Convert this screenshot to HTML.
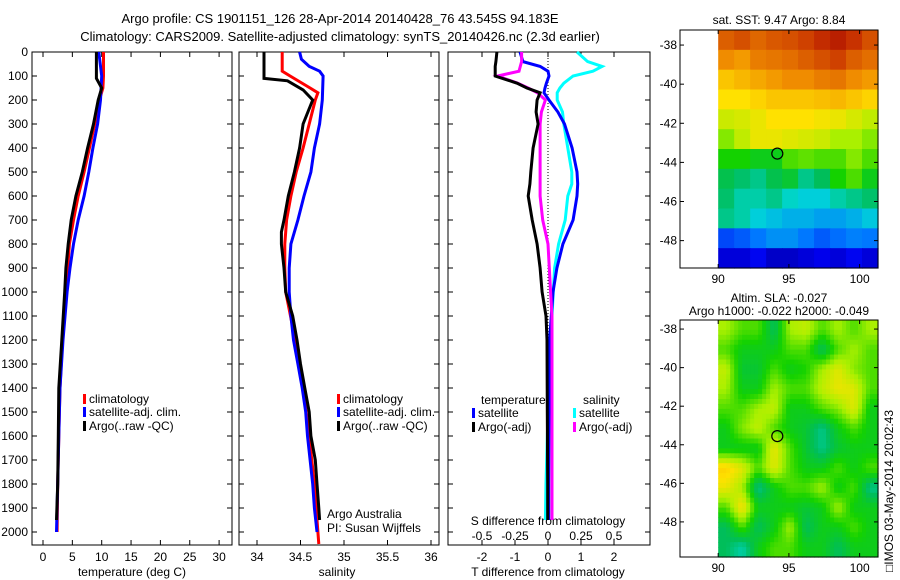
<!DOCTYPE html>
<html><head><meta charset="utf-8"><style>
body{margin:0;background:#fff;}
svg{display:block;font-family:"Liberation Sans",sans-serif;}
text{font-size:12px;fill:#000;}
</style></head><body>
<svg id="s" width="900" height="580" viewBox="0 0 900 580">
<text x="340" y="23" text-anchor="middle" style="font-size:13px">Argo profile: CS 1901151_126 28-Apr-2014 20140428_76 43.545S 94.183E</text>
<text x="340" y="41" text-anchor="middle" style="font-size:13px">Climatology: CARS2009. Satellite-adjusted climatology: synTS_20140426.nc (2.3d earlier)</text>
<text x="132" y="576" text-anchor="middle">temperature (deg C)</text>
<text x="337" y="576" text-anchor="middle">salinity</text>
<text x="548" y="576" text-anchor="middle">T difference from climatology</text>
<text x="548" y="525" text-anchor="middle">S difference from climatology</text>
<text x="779" y="24" text-anchor="middle">sat. SST: 9.47 Argo: 8.84</text>
<text x="779" y="302" text-anchor="middle">Altim. SLA: -0.027</text>
<text x="779" y="315" text-anchor="middle">Argo h1000: -0.022 h2000: -0.049</text>
<text x="327" y="518">Argo Australia</text>
<text x="327" y="532">PI: Susan Wijffels</text>
<text transform="translate(893,572) rotate(-90)">□IMOS 03-May-2014 20:02:43</text>
</svg>
<script>
const S=document.getElementById('s');const NS='http://www.w3.org/2000/svg';
function mk(tag,at,parent){const e=document.createElementNS(NS,tag);for(const k in at)e.setAttribute(k,at[k]);(parent||S).appendChild(e);return e;}
// ---- data ----
const depthT=[0,100,150,200,300,400,500,600,700,800,900,1000,1200,1400,1600,1800,2000];
const tempClim=[10.3,10.3,10.2,9.6,8.8,7.9,7.0,6.0,5.2,4.5,4.2,3.9,3.3,2.9,2.7,2.5,2.4];
const tempSat=[9.5,10.0,9.9,9.8,9.3,8.5,7.8,7.0,6.0,5.2,4.6,4.1,3.4,2.9,2.7,2.5,2.3];
const depthTA=[0,110,150,200,300,400,500,600,700,800,900,1000,1200,1400,1600,1800,1950];
const tempArgo=[9.1,9.1,10.0,9.4,8.6,7.6,6.7,5.6,4.8,4.3,3.9,3.7,3.2,2.7,2.6,2.5,2.3];
const depthSC=[0,80,100,150,170,200,300,400,500,600,700,800,900,1000,1200,1400,1600,1800,2000,2050];
const salClim=[34.29,34.29,34.38,34.61,34.70,34.67,34.60,34.53,34.45,34.39,34.34,34.32,34.32,34.33,34.44,34.53,34.6,34.66,34.70,34.71];
const depthSS=[0,30,60,80,100,200,300,400,500,600,700,800,900,1000,1100,1200,1300,1400,1500,1600,1700,1800,1900,2000];
const salSat=[34.49,34.51,34.6,34.72,34.76,34.75,34.72,34.66,34.62,34.54,34.47,34.39,34.37,34.37,34.39,34.42,34.47,34.52,34.56,34.58,34.61,34.64,34.66,34.69];
const depthSA=[0,110,120,158,200,300,400,500,600,700,750,800,900,1000,1100,1200,1300,1400,1500,1600,1700,1800,1900,1950];
const salArgo=[34.08,34.08,34.35,34.53,34.64,34.53,34.49,34.43,34.36,34.31,34.28,34.28,34.31,34.33,34.41,34.46,34.5,34.55,34.6,34.62,34.67,34.69,34.71,34.72];
const depthD=[0,40,60,80,100,130,150,170,200,250,300,400,500,550,600,700,800,900,1000,1100,1200,1500,1800,1950];
const dTsat=[-0.85,-0.76,-0.24,0,0.03,-0.05,-0.09,-0.12,0.03,0.3,0.5,0.73,0.88,0.9,0.88,0.76,0.45,0.27,0.15,0.1,0.05,0.03,0.02,0.02];
const dTargo=[-1.55,-1.58,-1.6,-1.6,-1.6,-0.94,-0.64,-0.24,-0.33,-0.36,-0.3,-0.45,-0.52,-0.55,-0.6,-0.48,-0.33,-0.24,-0.18,-0.06,-0.03,-0.02,-0.01,-0.01];
const dSsat=[0.22,0.3,0.41,0.34,0.19,0.12,0.09,0.07,0.07,0.11,0.12,0.15,0.18,0.18,0.15,0.13,0.08,0.05,0.04,0.03,0.02,0.0,-0.015,-0.02];
const dSargo=[-0.2,-0.2,-0.21,-0.22,-0.38,-0.23,-0.15,-0.08,-0.02,-0.05,-0.06,-0.06,-0.06,-0.06,-0.06,-0.04,0,0.01,0.02,0.03,0.03,0.03,0.03,0.03];
const depthTicks=[0,100,200,300,400,500,600,700,800,900,1000,1100,1200,1300,1400,1500,1600,1700,1800,1900,2000];
const tempTicks=[0,5,10,15,20,25,30];
const salTicks=['34','34.5','35','35.5','36'];
const dTTicks=[-2,-1,0,1,2];
const dSTicks=['-0.5','-0.25','0','0.25','0.5'];
const latTicks=[-38,-40,-42,-44,-46,-48];
const lonTicks=[90,95,100];
const sstGrid=[
[.86,.88,.85,.87,.88,.9,.93,.95,.92,.88],
[.8,.78,.82,.83,.84,.86,.88,.9,.86,.84],
[.72,.74,.76,.78,.8,.8,.82,.83,.8,.78],
[.68,.68,.7,.72,.72,.72,.73,.74,.72,.7],
[.63,.64,.66,.68,.68,.68,.67,.66,.64,.62],
[.58,.62,.66,.66,.65,.64,.63,.6,.6,.58],
[.52,.52,.5,.5,.55,.56,.55,.55,.58,.55],
[.46,.44,.42,.46,.48,.42,.45,.52,.55,.5],
[.44,.4,.4,.42,.38,.36,.36,.4,.42,.44],
[.42,.4,.36,.34,.32,.32,.3,.3,.32,.35],
[.2,.22,.25,.28,.28,.25,.22,.24,.26,.25],
[.1,.1,.13,.08,.08,.1,.12,.1,.13,.1]];
const slaGrid=[
[.6,.55,.55,.45,.6,.62,.55,.6,.55,.6],
[.55,.5,.5,.5,.55,.55,.45,.55,.6,.55],
[.62,.48,.48,.55,.5,.52,.6,.65,.58,.55],
[.6,.5,.5,.6,.55,.55,.62,.66,.65,.55],
[.55,.55,.6,.62,.5,.5,.55,.58,.65,.5],
[.5,.58,.62,.55,.5,.48,.42,.5,.55,.5],
[.5,.5,.5,.66,.55,.48,.42,.48,.5,.5],
[.7,.65,.55,.65,.55,.5,.5,.55,.5,.55],
[.66,.6,.42,.5,.55,.55,.6,.5,.55,.42],
[.55,.68,.5,.5,.5,.48,.5,.6,.5,.5],
[.45,.55,.45,.5,.6,.45,.5,.5,.55,.5],
[.45,.4,.5,.55,.55,.5,.5,.45,.5,.5]];
const argoLon=[94.18];const argoLat=[-43.55];
// ---- scales ----
const yD=d=>52+d*0.24;
const xT=t=>43+t*5.87;
const xS=s=>257+(s-34)*87;
const xDT=t=>548+t*33;
const xDS=s=>548+s*132;
function line(xs,ys,xf,yf,col,name){const p=xs.map((v,i)=>xf(v).toFixed(1)+','+yf(ys[i]).toFixed(1)).join(' ');
 const e=mk('polyline',{points:p,fill:'none',stroke:col,'stroke-width':3,'stroke-linejoin':'miter'});
 
 }
function panel(x0,x1,name){const r=mk('rect',{x:x0,y:52,width:x1-x0,height:493,fill:'none',stroke:'#000','stroke-width':1});
 
 
 depthTicks.forEach(d=>{mk('line',{x1:x0,x2:x0+5,y1:yD(d),y2:yD(d),stroke:'#000'});mk('line',{x1:x1-5,x2:x1,y1:yD(d),y2:yD(d),stroke:'#000'});});}
function xticks(vals,xf,x0,name){vals.forEach(v=>{const x=xf(+v);mk('line',{x1:x,x2:x,y1:545,y2:540,stroke:'#000'});mk('line',{x1:x,x2:x,y1:52,y2:57,stroke:'#000'});
 const t=mk('text',{x:x,y:561,'text-anchor':'middle'});t.textContent=v;
 
 });}
panel(32,232,'temperature-panel');panel(239,439,'salinity-panel');panel(448,650,'difference-panel');
depthTicks.forEach(d=>{const t=mk('text',{x:28,y:yD(d)+4,'text-anchor':'end'});t.textContent=d;
 
 });
xticks(tempTicks,xT,32,'temperature-tick-label');
xticks(salTicks,xS,239,'salinity-tick-label');
xticks(dTTicks,xDT,448,'t-diff-tick-label');
dSTicks.forEach(v=>{const t=mk('text',{x:xDS(+v),y:540,'text-anchor':'middle'});t.textContent=v;
 
 });
const z=mk('line',{x1:548,x2:548,y1:52,y2:400,stroke:'#000','stroke-dasharray':'1,2'});


line(tempClim,depthT,xT,yD,'#f00','temp-climatology-line');
line(tempSat,depthT,xT,yD,'#00f','temp-satellite-line');
line(tempArgo,depthTA,xT,yD,'#000','temp-argo-line');
line(salClim,depthSC,xS,yD,'#f00','sal-climatology-line');
line(salSat,depthSS,xS,yD,'#00f','sal-satellite-line');
line(salArgo,depthSA,xS,yD,'#000','sal-argo-line');
line(dSsat,depthD,xDS,yD,'#0ff','s-diff-satellite-line');
line(dTsat,depthD,xDT,yD,'#00f','t-diff-satellite-line');
line(dSargo,depthD,xDS,yD,'#f0f','s-diff-argo-line');
line(dTargo,depthD,xDT,yD,'#000','t-diff-argo-line');
function leg(x,y,col,label,name){mk('rect',{x:x,y:y-9,width:3,height:10,fill:col});
 const t=mk('text',{x:x+6,y:y});t.textContent=label;
 
 }
leg(83,403,'#f00','climatology','legend-climatology');leg(83,416,'#00f','satellite-adj. clim.','legend-satellite-adj');leg(83,430,'#000','Argo(..raw -QC)','legend-argo');
leg(337,403,'#f00','climatology','legend-climatology');leg(337,416,'#00f','satellite-adj. clim.','legend-satellite-adj');leg(337,430,'#000','Argo(..raw -QC)','legend-argo');
let tt=mk('text',{x:481,y:404});tt.textContent='temperature';


tt=mk('text',{x:583,y:404});tt.textContent='salinity';


leg(472,417,'#00f','satellite','legend-t-satellite');leg(472,431,'#000','Argo(-adj)','legend-t-argo');
leg(573,417,'#0ff','satellite','legend-s-satellite');leg(573,431,'#f0f','Argo(-adj)','legend-s-argo');
// colormap
const stops=[[0,[0,0,130]],[.125,[0,0,240]],[.25,[0,120,255]],[.37,[0,215,215]],[.45,[0,190,90]],[.52,[20,210,0]],[.6,[170,240,0]],[.68,[255,225,0]],[.8,[240,140,0]],[.92,[200,50,0]],[1,[160,0,0]]];
function cmap(v){for(let i=1;i<stops.length;i++){if(v<=stops[i][0]){const a=stops[i-1],b=stops[i],f=(v-a[0])/(b[0]-a[0]);return 'rgb('+a[1].map((c,k)=>Math.round(c+(b[1][k]-c)*f)).join(',')+')';}}return 'rgb(160,0,0)';}
function sample(grid,r,c){const R=grid.length,C=grid[0].length;r=Math.max(0,Math.min(R-1,r));c=Math.max(0,Math.min(C-1,c));
 const r0=Math.floor(r),c0=Math.floor(c),r1=Math.min(R-1,r0+1),c1=Math.min(C-1,c0+1),fr=r-r0,fc=c-c0;
 return grid[r0][c0]*(1-fr)*(1-fc)+grid[r0][c1]*(1-fr)*fc+grid[r1][c0]*fr*(1-fc)+grid[r1][c1]*fr*fc;}
function map(y0,y1,latTop,latBot,grid,name,sub){
 const x0=680,x1=878,lon0=87.3,lon1=101.3;
 const xL=l=>x0+(l-lon0)/(lon1-lon0)*(x1-x0);
 const yL=l=>y0+(latTop-l)/(latTop-latBot)*(y1-y0);
 const rows=grid.length*sub,cols=grid[0].length*sub,lonA=90,cw=(x1-xL(lonA))/cols,ch=(y1-y0)/rows;
 for(let r=0;r<rows;r++)for(let c=0;c<cols;c++){
  const v=sub===1?grid[r][c]:sample(grid,(r+0.5)/sub-0.5,(c+0.5)/sub-0.5);
  const e=mk('rect',{x:(xL(lonA)+c*cw).toFixed(2),y:(y0+r*ch).toFixed(2),width:(cw+0.6).toFixed(2),height:(ch+0.6).toFixed(2),fill:cmap(v)});
  
  }
 const b=mk('rect',{x:x0,y:y0,width:x1-x0,height:y1-y0,fill:'none',stroke:'#000'});
 
 
 latTicks.forEach(l=>{const y=yL(l);mk('line',{x1:x0,x2:x0+4,y1:y,y2:y,stroke:'#000'});mk('line',{x1:x1-4,x2:x1,y1:y,y2:y,stroke:'#000'});
  const t=mk('text',{x:x0-3,y:y+4,'text-anchor':'end'});t.textContent=l;
  
  });
 lonTicks.forEach(l=>{const x=xL(l);mk('line',{x1:x,x2:x,y1:y1,y2:y1-4,stroke:'#000'});mk('line',{x1:x,x2:x,y1:y0,y2:y0+4,stroke:'#000'});
  const t=mk('text',{x:x,y:y1+15,'text-anchor':'middle'});t.textContent=l;
  
  });
 argoLon.forEach((l,i)=>{const c=mk('circle',{cx:xL(l),cy:yL(argoLat[i]),r:5.5,fill:'none',stroke:'#000','stroke-width':1.2});
  
  });
}
map(30,268,-37.23,-49.4,sstGrid,'sst-map',1);
map(320,557,-37.53,-49.82,slaGrid,'sla-map',4);
</script>
</body></html>
